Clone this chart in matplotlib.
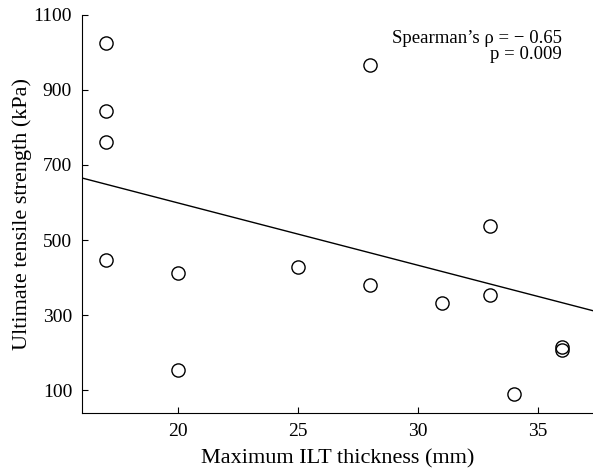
import numpy as np
import matplotlib
matplotlib.use('Agg')
import matplotlib.pyplot as plt

plt.rcParams['font.family'] = ['Liberation Serif', 'DejaVu Serif']

# max ILT thickness (mm) vs ultimate tensile strength (kPa)
ilt_thickness = [17, 17, 17, 17, 20, 20, 25, 28, 28, 31, 33, 33, 34, 36, 36]
tensile_strength = [1025, 845, 762, 448, 412, 153, 427, 967, 381, 333, 537, 355, 90, 216, 206]

# regression line
fit_slope = -16.6
fit_intercept = 931

fig = plt.figure(figsize=(5.93, 4.76), dpi=100)
ax = fig.add_axes([0.138, 0.132, 0.862, 0.837])

ax.plot(ilt_thickness, tensile_strength, 'o', markersize=9.5, markerfacecolor='none',
        markeredgecolor='black', markeredgewidth=1.0, linestyle='none', zorder=3)

xs = np.array([16, 37.3])
ax.plot(xs, fit_intercept + fit_slope * xs, color='black', linewidth=1.0)

ax.set_xlim(16, 37.3)
ax.set_ylim(39, 1100)
ax.set_xticks([20, 25, 30, 35])
ax.set_yticks([100, 300, 500, 700, 900, 1100])

for side in ['top', 'right']:
    ax.spines[side].set_visible(False)
for side in ['left', 'bottom']:
    ax.spines[side].set_linewidth(0.8)
ax.tick_params(direction='in', length=4, width=0.8, labelsize=14, pad=7)

ax.set_xlabel('Maximum ILT thickness (mm)', fontsize=16, labelpad=7)
ax.set_ylabel('Ultimate tensile strength (kPa)', fontsize=16, labelpad=1)

ax.text(0.939, 0.929, 'Spearman\u2019s \u03c1 = \u2212 0.65', transform=ax.transAxes,
        ha='right', va='baseline', fontsize=13.5)
ax.text(0.939, 0.889, 'p = 0.009', transform=ax.transAxes,
        ha='right', va='baseline', fontsize=13.5)

fig.savefig('out.png', dpi=100)
